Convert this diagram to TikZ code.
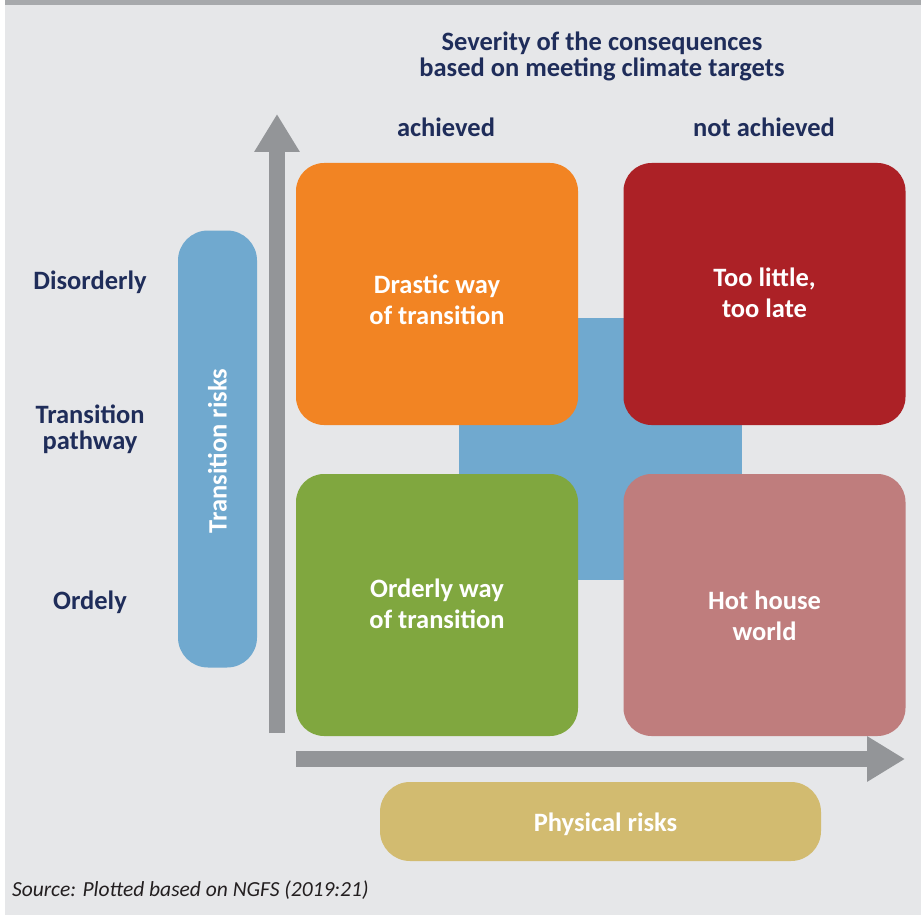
\documentclass[tikz,border=0pt]{standalone}
\usepackage{fontspec}
\setmainfont{Carlito}
\usetikzlibrary{arrows.meta,positioning}
\definecolor{bgpanel}{HTML}{E6E7E9}
\definecolor{topband}{HTML}{A7A9AC}
\definecolor{axisgray}{HTML}{939598}
\definecolor{navy}{HTML}{1F2D5A}
\definecolor{drasticorange}{HTML}{F28423}
\definecolor{lateRed}{HTML}{AC2126}
\definecolor{orderlygreen}{HTML}{80A73F}
\definecolor{hotpink}{HTML}{BF7D7D}
\definecolor{riskblue}{HTML}{70A9CF}
\definecolor{physyellow}{HTML}{D2BB70}
\definecolor{sourcegray}{HTML}{231F20}

\begin{document}
\begin{tikzpicture}[x=1pt, y=-1pt]
		\tikzstyle{scenario} = [rectangle, rounded corners=28pt, minimum width=282pt, minimum height=262pt, inner sep=0pt]
		\tikzstyle{scenario_text} = [text=white, align=center, font=\fontsize{26.5}{31}\selectfont\bfseries]
		\tikzstyle{riskbar} = [rectangle, rounded corners=30pt, fill=riskblue, inner sep=0pt]
		\tikzstyle{axislabel} = [text=navy, align=center, font=\fontsize{26.5}{26}\selectfont\bfseries]
		\tikzstyle{axis} = [draw=axisgray, line width=16pt, -{Triangle[length=38pt, width=43pt]}]

		% Panel
		\useasboundingbox (0,0) rectangle (921,915);
		\fill[white] (0,0) rectangle (921,915);
		\fill[bgpanel] (5,5) rectangle (921,915);
		\fill[topband] (5,0) rectangle (921,5);

		% Heading and columns
		\node (head) [axislabel] at (602,56) {Severity of the consequences\\based on meeting climate targets};
		\node (ach) [axislabel] at (446,127) {achieved};
		\node (notach) [axislabel] at (764,127) {not achieved};

		% Rows
		\node (dis) [axislabel] at (90,282) {Disorderly};
		\node (path) [axislabel] at (90,429) {Transition\\pathway};
		\node (ord) [axislabel] at (90,602) {Ordely};

		% Centre square behind the scenarios
		\node (core) [rectangle, fill=riskblue, minimum width=283pt, minimum height=262pt, inner sep=0pt] at (600.5,449) {};

		% Scenarios
		\node (drastic) [scenario, fill=drasticorange] at (437,294) {};
		\node (late) [scenario, fill=lateRed] at (764.5,294) {};
		\node (orderly) [scenario, fill=orderlygreen] at (437,605) {};
		\node (hot) [scenario, fill=hotpink] at (764.5,605) {};
		\node (drastic_txt) [scenario_text] at ([yshift=-5.5pt]drastic.center) {Drastic way\\of transition};
		\node (late_txt) [scenario_text] at ([yshift=1.5pt]late.center) {Too little,\\too late};
		\node (orderly_txt) [scenario_text] at ([yshift=1.5pt]orderly.center) {Orderly way\\of transition};
		\node (hot_txt) [scenario_text] at ([yshift=-10.5pt]hot.center) {Hot house\\world};

		% Risk bars
		\node (trans) [riskbar, minimum width=79pt, minimum height=437pt] at (217.5,449) {};
		\node (trans_txt) at ([yshift=-2pt]trans.center) [rotate=90, text=white, font=\fontsize{26.5}{30}\selectfont\bfseries] {Transition risks};
		\node (phys) [riskbar, fill=physyellow, minimum width=441pt, minimum height=79pt] at (600.5,821.5) {};
		\node (phys_txt) at ([xshift=5pt, yshift=-3pt]phys.center) [text=white, font=\fontsize{26.5}{30}\selectfont\bfseries] {Physical risks};

		% Axes
		\coordinate (yfoot) at (277,733);
		\coordinate (ytip) at (277,114);
		\coordinate (xfoot) at (296,759);
		\coordinate (xtip) at (905,759);
		\draw[axis] (yfoot) -- (ytip);
		\draw[axis] (xfoot) -- (xtip);

		% Source
		\node (src) [anchor=west, text=sourcegray, font=\fontsize{21.5}{25}\selectfont\itshape] at (8.5,890) {Source: Plotted based on NGFS (2019:21)};
	\end{tikzpicture}
\end{document}
